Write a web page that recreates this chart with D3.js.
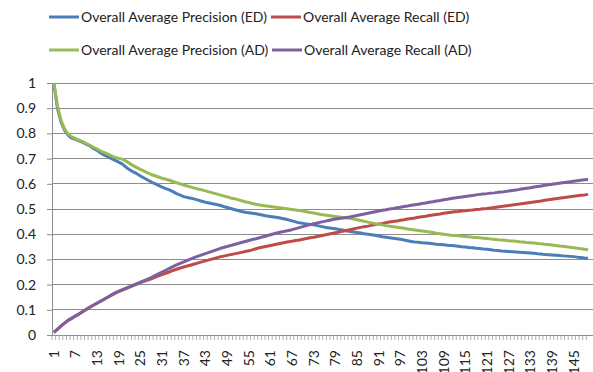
<!DOCTYPE html>
<html>
<head>
<meta charset="utf-8">
<script src="https://cdn.jsdelivr.net/npm/d3@7"></script>
<style>
  body { margin: 0; background: #fff; overflow: hidden; }
  svg { display: block; font-family: Lato, "Open Sans", sans-serif; }
</style>
</head>
<body>
<div id="chart"></div>
<script>
// values, one per category (1..149)
const precisionED = [
  1.000, 0.900, 0.845, 0.812, 0.792, 0.781, 0.776, 0.770, 0.764, 0.757,
  0.750, 0.740, 0.733, 0.722, 0.714, 0.708, 0.700, 0.693, 0.686, 0.678,
  0.666, 0.656, 0.647, 0.640, 0.631, 0.623, 0.615, 0.607, 0.601, 0.594,
  0.587, 0.581, 0.576, 0.569, 0.561, 0.555, 0.549, 0.546, 0.543, 0.539,
  0.535, 0.531, 0.527, 0.524, 0.521, 0.518, 0.515, 0.510, 0.506, 0.502,
  0.498, 0.494, 0.490, 0.487, 0.485, 0.483, 0.481, 0.478, 0.475, 0.472,
  0.470, 0.468, 0.466, 0.463, 0.460, 0.457, 0.453, 0.449, 0.445, 0.443,
  0.441, 0.439, 0.437, 0.434, 0.431, 0.428, 0.426, 0.424, 0.422, 0.419,
  0.417, 0.414, 0.411, 0.409, 0.407, 0.405, 0.402, 0.400, 0.398, 0.396,
  0.393, 0.390, 0.388, 0.386, 0.384, 0.382, 0.380, 0.377, 0.374, 0.371,
  0.369, 0.368, 0.366, 0.365, 0.364, 0.362, 0.360, 0.359, 0.358, 0.356,
  0.355, 0.354, 0.352, 0.350, 0.349, 0.347, 0.346, 0.344, 0.343, 0.341,
  0.340, 0.338, 0.336, 0.335, 0.333, 0.332, 0.331, 0.330, 0.329, 0.328,
  0.327, 0.326, 0.325, 0.324, 0.322, 0.321, 0.319, 0.318, 0.317, 0.316,
  0.315, 0.314, 0.313, 0.312, 0.311, 0.309, 0.308, 0.306, 0.305
]
const recallED = [
  0.010, 0.022, 0.035, 0.047, 0.058, 0.066, 0.075, 0.083, 0.092, 0.101,
  0.110, 0.118, 0.126, 0.134, 0.142, 0.150, 0.158, 0.166, 0.172, 0.178,
  0.184, 0.190, 0.196, 0.202, 0.208, 0.213, 0.218, 0.223, 0.229, 0.235,
  0.240, 0.245, 0.250, 0.256, 0.261, 0.266, 0.270, 0.274, 0.278, 0.282,
  0.286, 0.290, 0.294, 0.298, 0.302, 0.306, 0.310, 0.313, 0.316, 0.319,
  0.322, 0.325, 0.328, 0.331, 0.334, 0.338, 0.342, 0.346, 0.349, 0.352,
  0.355, 0.358, 0.361, 0.364, 0.367, 0.370, 0.372, 0.375, 0.377, 0.380,
  0.383, 0.386, 0.388, 0.391, 0.394, 0.397, 0.400, 0.403, 0.406, 0.409,
  0.412, 0.415, 0.418, 0.421, 0.424, 0.427, 0.430, 0.432, 0.435, 0.438,
  0.441, 0.443, 0.446, 0.448, 0.450, 0.452, 0.455, 0.457, 0.460, 0.462,
  0.464, 0.467, 0.469, 0.471, 0.474, 0.476, 0.478, 0.480, 0.483, 0.485,
  0.487, 0.489, 0.490, 0.492, 0.493, 0.495, 0.496, 0.498, 0.499, 0.501,
  0.502, 0.504, 0.506, 0.508, 0.510, 0.512, 0.514, 0.516, 0.518, 0.520,
  0.522, 0.524, 0.526, 0.528, 0.530, 0.532, 0.535, 0.537, 0.539, 0.541,
  0.543, 0.545, 0.547, 0.549, 0.551, 0.553, 0.555, 0.556, 0.558
]
const precisionAD = [
  1.000, 0.910, 0.852, 0.817, 0.797, 0.786, 0.779, 0.773, 0.767, 0.760,
  0.753, 0.745, 0.738, 0.730, 0.724, 0.718, 0.711, 0.705, 0.701, 0.698,
  0.690, 0.681, 0.672, 0.664, 0.657, 0.650, 0.643, 0.637, 0.632, 0.627,
  0.622, 0.618, 0.614, 0.609, 0.604, 0.600, 0.595, 0.591, 0.587, 0.583,
  0.579, 0.576, 0.572, 0.568, 0.564, 0.560, 0.556, 0.552, 0.548, 0.544,
  0.541, 0.537, 0.533, 0.529, 0.526, 0.522, 0.519, 0.516, 0.514, 0.512,
  0.510, 0.508, 0.506, 0.504, 0.502, 0.500, 0.498, 0.496, 0.494, 0.492,
  0.489, 0.486, 0.484, 0.481, 0.478, 0.476, 0.474, 0.472, 0.470, 0.468,
  0.466, 0.465, 0.463, 0.460, 0.457, 0.454, 0.451, 0.448, 0.445, 0.442,
  0.439, 0.437, 0.434, 0.432, 0.430, 0.428, 0.426, 0.424, 0.421, 0.419,
  0.417, 0.415, 0.413, 0.411, 0.409, 0.407, 0.404, 0.402, 0.400, 0.398,
  0.396, 0.395, 0.394, 0.392, 0.391, 0.390, 0.388, 0.387, 0.386, 0.384,
  0.383, 0.381, 0.380, 0.378, 0.377, 0.376, 0.374, 0.373, 0.372, 0.370,
  0.369, 0.367, 0.366, 0.365, 0.363, 0.362, 0.360, 0.359, 0.357, 0.355,
  0.353, 0.352, 0.350, 0.348, 0.346, 0.344, 0.342, 0.340, 0.338
]
const recallAD = [
  0.010, 0.023, 0.036, 0.048, 0.059, 0.067, 0.076, 0.084, 0.093, 0.102,
  0.111, 0.119, 0.127, 0.135, 0.143, 0.151, 0.159, 0.167, 0.174, 0.180,
  0.186, 0.192, 0.198, 0.204, 0.210, 0.216, 0.222, 0.228, 0.236, 0.243,
  0.250, 0.257, 0.264, 0.271, 0.278, 0.284, 0.290, 0.296, 0.302, 0.308,
  0.313, 0.318, 0.323, 0.328, 0.333, 0.338, 0.343, 0.347, 0.351, 0.355,
  0.359, 0.363, 0.367, 0.371, 0.375, 0.379, 0.382, 0.386, 0.390, 0.394,
  0.398, 0.402, 0.406, 0.409, 0.412, 0.415, 0.418, 0.422, 0.426, 0.430,
  0.434, 0.438, 0.442, 0.445, 0.448, 0.451, 0.454, 0.457, 0.460, 0.462,
  0.464, 0.466, 0.468, 0.471, 0.474, 0.477, 0.480, 0.483, 0.486, 0.489,
  0.492, 0.495, 0.497, 0.500, 0.502, 0.505, 0.507, 0.510, 0.512, 0.515,
  0.517, 0.519, 0.522, 0.524, 0.527, 0.529, 0.532, 0.534, 0.537, 0.539,
  0.542, 0.544, 0.546, 0.548, 0.550, 0.552, 0.554, 0.556, 0.558, 0.560,
  0.561, 0.563, 0.564, 0.566, 0.567, 0.569, 0.571, 0.573, 0.575, 0.578,
  0.580, 0.582, 0.584, 0.587, 0.589, 0.591, 0.594, 0.596, 0.598, 0.600,
  0.602, 0.604, 0.606, 0.608, 0.610, 0.612, 0.614, 0.616, 0.617
]
const xTickLabels = [1, 7, 13, 19, 25, 31, 37, 43, 49, 55, 61, 67, 73, 79, 85, 91, 97,
  103, 109, 115, 121, 127, 133, 139, 145]
const yTicks = [0, 0.1, 0.2, 0.3, 0.4, 0.5, 0.6, 0.7, 0.8, 0.9, 1]

const series = [
  { name: "Overall Average Precision (ED)", values: precisionED, color: "#4a7ebb" },
  { name: "Overall Average Recall (ED)", values: recallED, color: "#be4b48" },
  { name: "Overall Average Precision (AD)", values: precisionAD, color: "#98b954" },
  { name: "Overall Average Recall (AD)", values: recallAD, color: "#7d60a0" }
]

const width = 593, height = 372
const plotLeft = 52, plotTop = 83, plotBottom = 335
const categories = precisionED.map((d, i) => i + 1)

const svg = d3.select('#chart').append('svg')
    .attr('width', width)
    .attr('height', height)

const x = d3.scaleBand()
    .domain(categories)
    .range([plotLeft, plotLeft + categories.length * 3.61])
const y = d3.scaleLinear()
    .domain([0, 1])
    .range([plotBottom, plotTop])

// gridlines
svg.append('g').selectAll('line')
    .data(yTicks.filter(d => d > 0))
    .join('line')
    .attr('x1', plotLeft)
    .attr('x2', width + 10)
    .attr('y1', d => y(d))
    .attr('y2', d => y(d))
    .attr('stroke', '#8c8c8c')
    .attr('stroke-width', 1)
    .attr('shape-rendering', 'crispEdges')

// y axis
const yAxis = svg.append('g')
    .attr('transform', `translate(${plotLeft},0)`)
    .call(d3.axisLeft(y).tickValues(yTicks).tickSize(5).tickFormat(d3.format('')))
yAxis.select('.domain').attr('stroke', '#8c8c8c')
yAxis.selectAll('.tick line').attr('stroke', '#8c8c8c')
yAxis.selectAll('.tick text')
    .attr('x', -16)
    .attr('fill', '#222')
    .style('font-size', '14px')
    .style('font-family', 'Lato, sans-serif')

// x axis: a tick at every category boundary, labels every 6th
const xg = svg.append('g')
    .attr('transform', `translate(0,${plotBottom})`)
xg.append('line')
    .attr('x1', plotLeft).attr('x2', width + 10)
    .attr('stroke', '#8c8c8c')
    .attr('shape-rendering', 'crispEdges')
xg.selectAll('line.tk')
    .data(categories)
    .join('line')
    .attr('class', 'tk')
    .attr('x1', d => x(d)).attr('x2', d => x(d))
    .attr('y1', 0).attr('y2', 5)
    .attr('stroke', '#9a9a9a')
    .attr('stroke-width', 0.8)
xg.selectAll('text')
    .data(xTickLabels)
    .join('text')
    .attr('transform', d => `translate(${x(d) + x.bandwidth() / 2 + 5},15) rotate(-90)`)
    .attr('text-anchor', 'end')
    .attr('fill', '#222')
    .style('font-size', '14px')
    .text(d => d)

// the lines
const line = d3.line()
    .x((d, i) => x(categories[i]) + x.bandwidth() / 2)
    .y(d => y(d))

svg.append('g').selectAll('path')
    .data(series)
    .join('path')
    .attr('fill', 'none')
    .attr('stroke', d => d.color)
    .attr('stroke-width', 3)
    .attr('stroke-linejoin', 'round')
    .attr('d', d => line(d.values))

// legend, two rows
const legendPos = [[49, 17], [271, 17], [49, 50], [272, 50]]
const legend = svg.append('g').selectAll('g')
    .data(series)
    .join('g')
    .attr('transform', (d, i) => `translate(${legendPos[i][0]},${legendPos[i][1]})`)
legend.append('line')
    .attr('x1', 0).attr('x2', 30)
    .attr('stroke', d => d.color)
    .attr('stroke-width', 3)
legend.append('text')
    .attr('x', 32)
    .attr('dy', '0.35em')
    .attr('fill', '#222')
    .style('font-size', '14px')
    .text(d => d.name)
</script>
</body>
</html>
